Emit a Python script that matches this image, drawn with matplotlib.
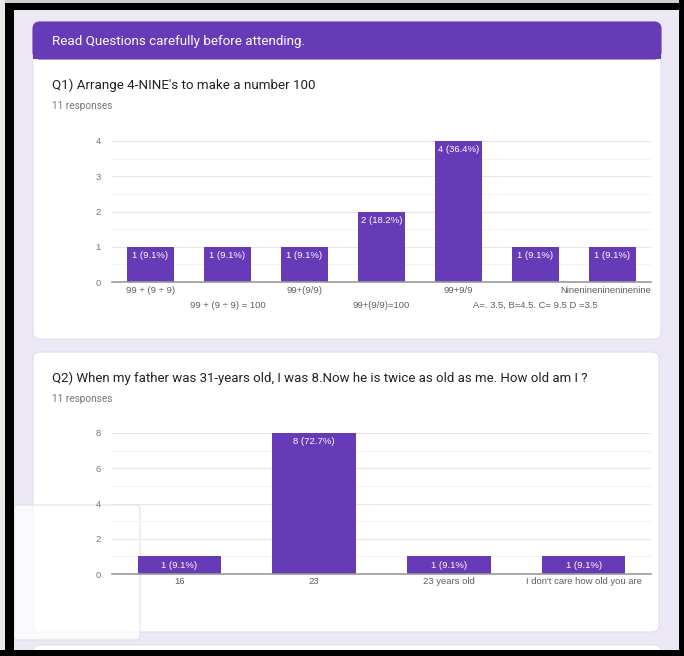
import matplotlib
matplotlib.use("Agg")
import matplotlib.pyplot as plt
from matplotlib.patches import FancyBboxPatch, Rectangle
from matplotlib.transforms import blended_transform_factory, offset_copy

# ---------------- data ----------------
header_text = "Read Questions carefully before attending."
q1_title = "Q1) Arrange 4-NINE's to make a number 100"
q1_responses = "11 responses"
q1_categories = ["99 + (9 ÷ 9)", "99 + (9 ÷ 9) = 100", "99+(9/9)", "99+(9/9)=100",
                 "99+9/9", "A=. 3.5, B=4.5. C= 9.5 D =3.5", "Nineninenineninenine"]
q1_values = [1, 1, 1, 2, 4, 1, 1]
q1_total = 11
q1_yticks = [0, 1, 2, 3, 4]

q2_title = "Q2) When my father was 31-years old, I was 8.Now he is twice as old as me. How old am I ?"
q2_responses = "11 responses"
q2_categories = ["16", "23", "23 years old", "I don't care how old you are"]
q2_values = [1, 8, 1, 1]
q2_total = 11
q2_yticks = [0, 2, 4, 6, 8]

# ---------------- style ----------------
W, H = 684, 656
PURPLE = "#673AB7"
LAVENDER = "#EDE8F6"
TXT = "#202124"
GRAY = "#70757a"
CARD_FONT = ["Roboto", "DejaVu Sans"]
CHART_FONT = ["Liberation Sans", "DejaVu Sans"]

fig = plt.figure(figsize=(W / 100, H / 100), dpi=100)
fig.patch.set_facecolor("black")

bg = fig.add_axes([0, 0, 1, 1], zorder=0)
bg.set_xlim(0, W)
bg.set_ylim(H, 0)
bg.axis("off")

# outer frame pieces
bg.add_patch(Rectangle((0, 0), W, 3, color="#cfcfcf", lw=0))
bg.add_patch(Rectangle((0, 0), 5, H, color="#e8e8e8", lw=0))
bg.add_patch(Rectangle((14, 10), 665, 640, color=LAVENDER, lw=0))


def card(x0, y0, x1, y1, r=7, fc="white", ec="#e2def0", z=1):
    p = FancyBboxPatch((x0, y0), x1 - x0, y1 - y0,
                       boxstyle=f"round,pad=0,rounding_size={r}",
                       fc=fc, ec=ec, lw=0.8, zorder=z)
    bg.add_patch(p)


# card 1 with purple header
card(33, 22, 661, 339)
card(33, 22, 661, 59, fc=PURPLE, ec=PURPLE, z=2)
bg.add_patch(Rectangle((33, 45), 628, 14, color=PURPLE, lw=0, zorder=2))
# card 2
card(33, 352, 659, 632)
# card 3 (just its top edge visible)
card(33, 645, 661, 700)
# popup artefact bottom-left
bg.add_patch(FancyBboxPatch((14, 505), 126, 135, boxstyle="round,pad=0,rounding_size=4",
                            fc="white", ec="#dedbe6", lw=0.9, alpha=0.75, zorder=3))
# frame bottom / right
bg.add_patch(Rectangle((0, 650), W, 6, color="black", lw=0, zorder=5))
bg.add_patch(Rectangle((679, 0), 5, H, color="black", lw=0, zorder=5))
bg.add_patch(Rectangle((5, 3), 9, H, color="black", lw=0, zorder=5))
bg.add_patch(Rectangle((5, 3), W, 7, color="black", lw=0, zorder=5))

# texts
bg.text(52, 41, header_text, color="white", fontsize=9.6, family=CARD_FONT,
        va="center", ha="left", zorder=4)
bg.text(52, 85, q1_title, color=TXT, fontsize=9.6, family=CARD_FONT,
        va="center", ha="left", zorder=4)
bg.text(52, 106, q1_responses, color=GRAY, fontsize=7.2, family=CARD_FONT,
        va="center", ha="left", zorder=4)
bg.text(52, 378, q2_title, color=TXT, fontsize=9.5, family=CARD_FONT,
        va="center", ha="left", zorder=4)
bg.text(52, 399, q2_responses, color=GRAY, fontsize=7.2, family=CARD_FONT,
        va="center", ha="left", zorder=4)


def chart(left, right, top, bottom, cats, vals, total, yticks, minor_step, stagger):
    ax = fig.add_axes([left / W, 1 - bottom / H, (right - left) / W, (bottom - top) / H],
                      zorder=6)
    ax.patch.set_alpha(0)
    n = len(cats)
    xs = list(range(n))
    ax.set_xlim(-0.5, n - 0.5)
    ax.set_ylim(yticks[0], yticks[-1])
    for s in ax.spines.values():
        s.set_visible(False)
    # gridlines
    ymin, ymax = yticks[0], yticks[-1]
    k = 0
    v = ymin
    while v <= ymax + 1e-9:
        major = v in yticks
        if v != 0:
            ax.axhline(v, color="#e6e6e6" if major else "#f3f3f3", lw=0.8, zorder=0)
        k += 1
        v = ymin + k * minor_step
    ax.axhline(0, color="#9a9a9a", lw=1.2, zorder=3, clip_on=False)
    ax.bar(xs, vals, width=0.62, color=PURPLE, zorder=2)
    for x, v in zip(xs, vals):
        ax.annotate(f"{v} ({v / total * 100:.1f}%)", (x, v), xytext=(0, -3),
                    textcoords="offset points", ha="center", va="top",
                    color="white", fontsize=6.8, family=CHART_FONT, zorder=4)
    ax.set_yticks(yticks)
    ax.set_yticklabels([str(t) for t in yticks], family=CHART_FONT)
    ax.tick_params(axis="y", length=0, pad=8, labelsize=6.8, labelcolor="#777777")
    ax.set_xticks([])
    tr = blended_transform_factory(ax.transData, ax.transAxes)
    for i, c in enumerate(cats):
        dy = -8 if (not stagger or i % 2 == 0) else -23
        t = offset_copy(tr, fig=fig, x=0, y=dy * 72 / 100, units="points")
        ha = "center"
        xi = i
        if i == n - 1 and stagger:
            ha = "right"
            xi = n - 0.5
        ax.text(xi, 0, c, transform=t, ha=ha, va="center", fontsize=6.8,
                family=CHART_FONT, color="#5f5f5f")
    return ax


chart(112, 651, 141, 282, q1_categories, q1_values, q1_total, q1_yticks, 0.5, True)
chart(112, 651, 433, 574, q2_categories, q2_values, q2_total, q2_yticks, 1, False)

fig.savefig("out.png", dpi=100, facecolor=fig.get_facecolor())
